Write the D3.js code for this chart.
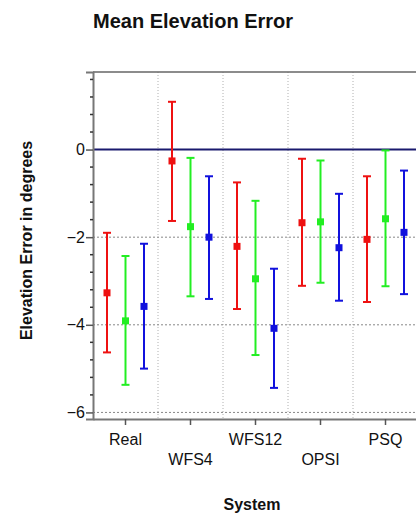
<!DOCTYPE html>
<html><head><meta charset="utf-8">
<script src="https://cdn.jsdelivr.net/npm/d3@7"></script>
<style>html,body{margin:0;padding:0;background:#fff;}svg{display:block;font-family:"Liberation Sans",Arial,sans-serif;}</style>
</head><body>
<script>
const categories = ["Real","WFS4","WFS12","OPSI","PSQ"];
const seriesNames = ["A","B","C"];
const seriesColors = ["#ee1111","#22ee22","#1111dd"];
// mean, lower, upper per series per category
const meanA  = [-3.27,-0.26,-2.21,-1.67,-2.05];
const lowA   = [-4.63,-1.63,-3.64,-3.11,-3.48];
const highA  = [-1.90, 1.09,-0.75,-0.21,-0.61];
const meanB  = [-3.91,-1.76,-2.95,-1.65,-1.58];
const lowB   = [-5.37,-3.35,-4.69,-3.04,-3.12];
const highB  = [-2.43,-0.19,-1.17,-0.25,-0.02];
const meanC  = [-3.58,-2.00,-4.08,-2.24,-1.89];
const lowC   = [-5.00,-3.41,-5.44,-3.45,-3.30];
const highC  = [-2.15,-0.61,-2.72,-1.01,-0.48];
const yTicks = [0,-2,-4,-6];
const title = "Mean Elevation Error";
const yTitle = "Elevation Error in degrees";
const xTitle = "System";

const means=[meanA,meanB,meanC], lows=[lowA,lowB,lowC], highs=[highA,highB,highC];
const W=416,H=515;
const L=93,R=418,T=72,B=419;
const svg=d3.select("body").append("svg").attr("width",W).attr("height",H);

const x=d3.scaleBand().domain(categories).range([L,R]);
const xi=d3.scalePoint().domain(seriesNames).range([-18.5,18.5]);
const y=d3.scaleLinear().domain([-6.15,1.77]).range([B,T]);

// vertical separators
svg.append("g").selectAll("line").data(categories.slice(1)).join("line")
  .attr("x1",d=>x(d)).attr("x2",d=>x(d)).attr("y1",T).attr("y2",B)
  .attr("stroke","#b0b0b0").attr("stroke-width",1).attr("stroke-dasharray","1,2");
// horizontal grid
svg.append("g").selectAll("line").data(yTicks.filter(d=>d!==0)).join("line")
  .attr("x1",L).attr("x2",R).attr("y1",d=>y(d)).attr("y2",d=>y(d))
  .attr("stroke","#888").attr("stroke-width",1).attr("stroke-dasharray","2,2");
// zero line
svg.append("line").attr("x1",L).attr("x2",R).attr("y1",y(0)).attr("y2",y(0))
  .attr("stroke","#1a1a6e").attr("stroke-width",2);

// frame top/right
svg.append("line").attr("x1",L).attr("x2",R).attr("y1",T).attr("y2",T).attr("stroke","#666").attr("stroke-width",1.5);
svg.append("line").attr("x1",R).attr("x2",R).attr("y1",T).attr("y2",B).attr("stroke","#666").attr("stroke-width",1.5);

// y axis
const minor=d3.range(-6,1.61,0.4).map(v=>Math.round(v*10)/10).filter(v=>!yTicks.includes(v));
const ya=svg.append("g").attr("transform",`translate(${L},0)`)
  .call(d3.axisLeft(y).tickValues(yTicks).tickFormat(d3.format("d")).tickSize(7).tickPadding(1));
ya.select(".domain").attr("stroke","#777").attr("stroke-width",2);
ya.selectAll(".tick line").attr("stroke","#555").attr("stroke-width",1.5);
ya.selectAll("text").attr("font-size",16).attr("fill","#111").attr("font-family","Liberation Sans, Arial, sans-serif");
svg.append("g").selectAll("line").data(minor).join("line")
  .attr("x1",L-3).attr("x2",L).attr("y1",d=>y(d)).attr("y2",d=>y(d))
  .attr("stroke","#333").attr("stroke-width",1.5);

// x axis
const xa=svg.append("g").attr("transform",`translate(0,${B})`)
  .call(d3.axisBottom(x).tickSize(6).tickSizeOuter(0));
xa.select(".domain").attr("stroke","#777").attr("stroke-width",2);
xa.selectAll(".tick line").attr("stroke","#555").attr("stroke-width",1.5);
xa.selectAll("text").attr("font-size",16).attr("fill","#111").attr("font-family","Liberation Sans, Arial, sans-serif")
  .attr("dy",null).attr("y",(d,i)=> i%2===0 ? 26 : 46);

// error bars
seriesNames.forEach((s,si)=>{
  const g=svg.append("g");
  const data=categories.map((c,ci)=>({c,m:means[si][ci],lo:lows[si][ci],hi:highs[si][ci]}));
  const col=seriesColors[si];
  g.selectAll(".v").data(data).join("line")
    .attr("x1",d=>x(d.c)+x.bandwidth()/2+xi(s)).attr("x2",d=>x(d.c)+x.bandwidth()/2+xi(s))
    .attr("y1",d=>y(d.lo)).attr("y2",d=>y(d.hi)).attr("stroke",col).attr("stroke-width",2);
  ["lo","hi"].forEach(k=>{
    g.selectAll(".c"+k).data(data).join("line")
      .attr("x1",d=>x(d.c)+x.bandwidth()/2+xi(s)-4).attr("x2",d=>x(d.c)+x.bandwidth()/2+xi(s)+4)
      .attr("y1",d=>y(d[k])).attr("y2",d=>y(d[k])).attr("stroke",col).attr("stroke-width",2);
  });
  g.selectAll("rect").data(data).join("rect")
    .attr("x",d=>x(d.c)+x.bandwidth()/2+xi(s)-3.5).attr("y",d=>y(d.m)-3.5)
    .attr("width",7).attr("height",7).attr("fill",col);
});

// titles
svg.append("text").attr("x",L).attr("y",28).attr("font-size",20).attr("font-weight","bold").attr("fill","#111").text(title);
svg.append("text").attr("transform",`translate(32,${(T+B)/2-5}) rotate(-90)`).attr("text-anchor","middle")
  .attr("font-size",16).attr("font-weight","bold").attr("fill","#111").text(yTitle);
svg.append("text").attr("x",252).attr("y",510).attr("text-anchor","middle")
  .attr("font-size",16).attr("font-weight","bold").attr("fill","#111").text(xTitle);
</script>
</body></html>
